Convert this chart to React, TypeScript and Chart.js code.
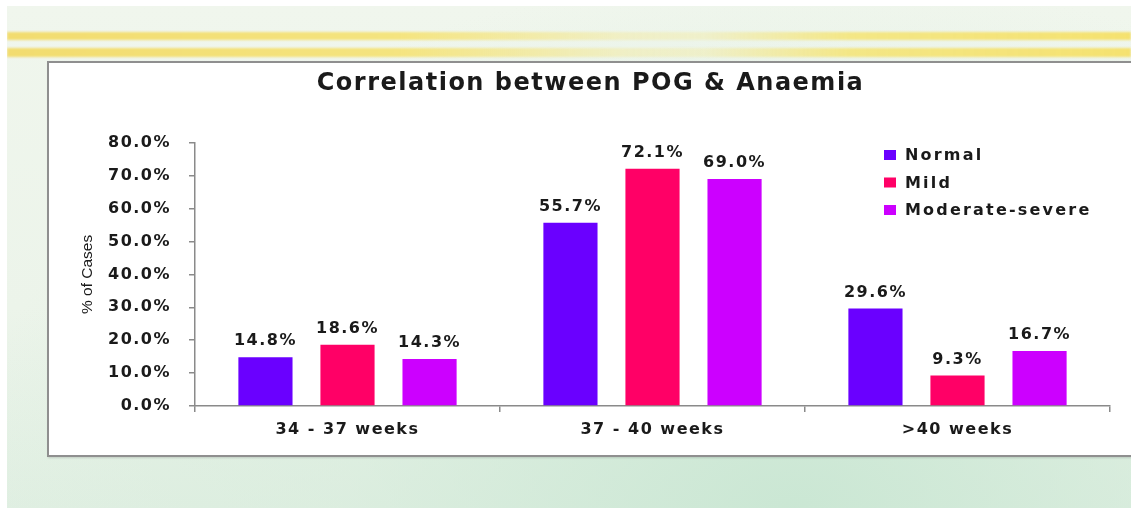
import React, { useEffect, useRef } from "react";
import { Chart, registerables } from "chart.js";

Chart.register(...registerables);

// ---------- data ----------
const categories = ["34 - 37 weeks", "37 - 40 weeks", ">40 weeks"];
const seriesNames = ["Normal", "Mild", "Moderate-severe"];
const normalValues = [14.8, 55.7, 29.6];
const mildValues = [18.6, 72.1, 9.3];
const moderateValues = [14.3, 69.0, 16.7];
const yTickValues = [0, 10, 20, 30, 40, 50, 60, 70, 80];
const titleText = "Correlation between POG & Anaemia";
const yAxisTitle = "% of Cases";

const seriesColors = ["#6a00ff", "#ff0066", "#cc00ff"];
const textColor = "#1a1a1a";
const axisColor = "#8a8a8a";

// wide lettering for the bold slide text; plain spacing for the y-axis title
const spacingPlugin = {
  id: "textSpacing",
  beforeDraw(chart: any, _args: any, opts: any) {
    (chart.ctx as any).letterSpacing = opts.wide;
  },
  afterDatasetsDraw(chart: any, _args: any, opts: any) {
    (chart.ctx as any).letterSpacing = opts.plain;
  },
};

const dataLabelPlugin = {
  id: "barValueLabels",
  afterDatasetsDraw(chart: any, _args: any, opts: any) {
    const ctx = chart.ctx;
    ctx.save();
    (ctx as any).letterSpacing = opts.spacing;
    ctx.font = opts.font;
    ctx.fillStyle = opts.color;
    ctx.textAlign = "center";
    ctx.textBaseline = "bottom";
    chart.data.datasets.forEach((ds: any, di: number) => {
      const meta = chart.getDatasetMeta(di);
      meta.data.forEach((bar: any, i: number) => {
        const v = ds.data[i] as number;
        ctx.fillText(v.toFixed(1) + "%", bar.x, bar.y - opts.gap);
      });
    });
    ctx.restore();
  },
};

const legendPlugin = {
  id: "insideLegend",
  afterDraw(chart: any, _args: any, opts: any) {
    const ctx = chart.ctx;
    ctx.save();
    (ctx as any).letterSpacing = opts.spacing;
    ctx.textAlign = "left";
    ctx.textBaseline = "middle";
    ctx.font = opts.font;
    chart.data.datasets.forEach((ds: any, i: number) => {
      const y = opts.y + i * opts.rowGap;
      ctx.fillStyle = ds.backgroundColor;
      ctx.fillRect(opts.x, y - opts.boxH / 2, opts.boxW, opts.boxH);
      ctx.fillStyle = opts.color;
      ctx.fillText(ds.label, opts.x + opts.textGap, y + 1);
    });
    ctx.restore();
  },
};

export default function App() {
  const canvasRef = useRef<HTMLCanvasElement | null>(null);

  useEffect(() => {
    if (!canvasRef.current) return;
    const seriesValues = [normalValues, mildValues, moderateValues];
    const chart = new Chart(canvasRef.current, {
      type: "bar",
      data: {
        labels: categories,
        datasets: seriesNames.map((name, i) => ({
          label: name,
          data: seriesValues[i],
          backgroundColor: seriesColors[i],
          borderWidth: 0,
          categoryPercentage: 0.807,
          barPercentage: 0.66,
        })),
      },
      options: {
        animation: false,
        responsive: true,
        maintainAspectRatio: false,
        layout: { padding: { left: 22, right: 21, top: 0, bottom: 0 } },
        plugins: {
          legend: { display: false },
          tooltip: { enabled: false },
          textSpacing: { wide: "1.5px", plain: "0px" },
          title: {
            display: true,
            text: titleText,
            color: textColor,
            font: { family: "'DejaVu Sans', sans-serif", weight: "bold", size: 24 },
            padding: { top: 6, bottom: 45 },
          },
          barValueLabels: {
            font: "bold 16px 'DejaVu Sans', sans-serif",
            color: textColor,
            gap: 8,
            spacing: "1.5px",
          },
          insideLegend: {
            x: 835,
            y: 92,
            rowGap: 27.5,
            boxW: 12,
            boxH: 10,
            textGap: 21,
            font: "bold 16px 'DejaVu Sans', sans-serif",
            color: textColor,
            spacing: "2.2px",
          },
        } as any,
        scales: {
          x: {
            grid: {
              display: true,
              drawOnChartArea: false,
              drawTicks: true,
              tickLength: 6,
              color: axisColor,
              lineWidth: 1.5,
              offset: true,
            },
            border: { display: true, color: axisColor, width: 1.5 },
            ticks: {
              z: 0,
              color: textColor,
              padding: 8,
              font: { family: "'DejaVu Sans', sans-serif", weight: "bold", size: 16 },
            },
            afterFit(scale: any) {
              scale.height = 49;
            },
          },
          y: {
            min: yTickValues[0],
            max: yTickValues[yTickValues.length - 1],
            grid: {
              display: true,
              drawOnChartArea: false,
              drawTicks: true,
              tickLength: 6,
              color: axisColor,
              lineWidth: 1.5,
              z: 1,
            },
            border: { display: true, color: axisColor, width: 1.5, z: 2 },
            ticks: {
              z: 0,
              stepSize: yTickValues[1] - yTickValues[0],
              color: textColor,
              padding: 18,
              font: { family: "'DejaVu Sans', sans-serif", weight: "bold", size: 16 },
              callback: (v: any) => Number(v).toFixed(1) + "%",
            },
            title: {
              display: true,
              text: yAxisTitle,
              color: textColor,
              font: { family: "'Liberation Sans', Arial, sans-serif", size: 15.5 },
              padding: { top: 7, bottom: 0 },
            },
            afterFit(scale: any) {
              scale.width = 124;
            },
          },
        },
      },
      plugins: [spacingPlugin, dataLabelPlugin, legendPlugin],
    });
    return () => chart.destroy();
  }, []);

  const stripe = (top: number, height: number): React.CSSProperties => ({
    position: "absolute",
    left: 0,
    top,
    width: "100%",
    height,
    background:
      "linear-gradient(90deg, rgba(243,214,80,0.8) 0%, rgba(246,224,100,0.8) 35%, rgba(246,230,130,0.35) 55%, rgba(246,230,130,0.3) 62%, rgba(246,226,100,0.75) 75%, rgba(246,222,90,0.85) 100%)",
    filter: "blur(1px)",
  });

  return (
    <div
      style={{
        position: "absolute",
        left: 7,
        top: 6,
        width: 1124,
        height: 502,
        overflow: "hidden",
        background:
          "radial-gradient(ellipse at 70% 100%, rgba(200,230,210,0.9) 0%, rgba(215,236,220,0.5) 40%, rgba(235,244,234,0) 75%), linear-gradient(180deg, #f0f6ed 0%, #ecf4ea 60%, #e0efe2 100%)",
      }}
    >
      <div style={stripe(26, 8)} />
      <div style={stripe(42, 9)} />
      <div
        style={{
          position: "absolute",
          left: 40,
          top: 55,
          width: 1084,
          height: 396,
          boxSizing: "border-box",
          background: "#ffffff",
          borderTop: "2px solid #8f8f8f",
          borderLeft: "2px solid #8f8f8f",
          borderBottom: "2px solid #8f8f8f",
          boxShadow: "1px 1px 2px rgba(0,0,0,0.15)",
        }}
      >
        <div style={{ position: "relative", width: 1082, height: 392 }}>
          <canvas ref={canvasRef} />
        </div>
      </div>
    </div>
  );
}
